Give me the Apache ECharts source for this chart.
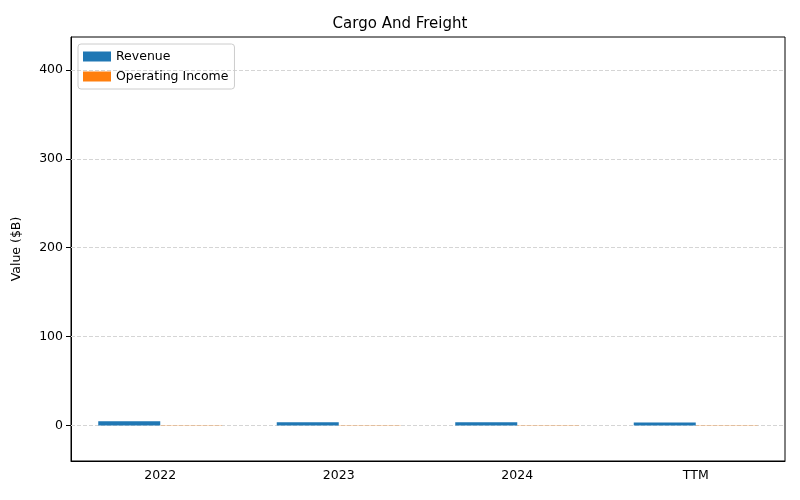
<!DOCTYPE html><html><head><meta charset="utf-8"><script src="https://cdn.jsdelivr.net/npm/echarts@6/dist/echarts.min.js"></script></head><body style="margin:0"><div id="c" style="width:800px;height:500px"></div><script>
const categories=['2022','2023','2024','TTM'];
const revenue=[4.8,3.5,3.5,3.4];
const operatingIncome=[0.3,0.2,0.2,0.2];
const yTicks=[0,100,200,300,400];
const ch=echarts.init(document.getElementById('c'));
const ff='DejaVu Sans';
ch.setOption({animation:false,textStyle:{fontFamily:ff},
title:{text:'Cargo And Freight',left:'center',top:12,textStyle:{fontFamily:ff,fontSize:15,fontWeight:'normal',color:'#000'}},
legend:{left:78,top:44,orient:'vertical',itemWidth:28,itemHeight:10,itemGap:7,icon:'rect',borderColor:'#ccc',borderWidth:1,borderRadius:3,padding:[6,6,6,5],textStyle:{fontFamily:ff,fontSize:12.5,color:'#000'},data:['Revenue','Operating Income']},
grid:{left:71,right:15,top:37,bottom:39,show:true,borderColor:'#000',borderWidth:1},
xAxis:{type:'category',data:categories,axisLine:{onZero:false,lineStyle:{color:'#000'}},axisTick:{alignWithLabel:true,lineStyle:{color:'#000'}},axisLabel:{color:'#000',fontSize:12.5,fontFamily:ff}},
yAxis:{type:'value',min:-40,max:437,name:'Value ($B)',nameLocation:'middle',nameGap:48,nameTextStyle:{fontFamily:ff,fontSize:12.5,color:'#000'},
axisLine:{show:true,lineStyle:{color:'#000'}},axisTick:{show:true,customValues:yTicks,lineStyle:{color:'#000'}},
axisLabel:{color:'#000',fontSize:12.5,fontFamily:ff,customValues:yTicks},
splitLine:{show:false}},
series:[{name:'Revenue',type:'bar',data:revenue,barWidth:62,barGap:'0%',itemStyle:{color:'#1f77b4'},z:3,
markLine:{silent:true,symbol:'none',label:{show:false},lineStyle:{type:'dashed',color:'#d5d5d5',width:1},data:yTicks.map(v=>({yAxis:v})),z:1}},
{name:'Operating Income',type:'bar',data:operatingIncome,barWidth:62,itemStyle:{color:'#ff7f0e'},z:3}]});
</script></body></html>
